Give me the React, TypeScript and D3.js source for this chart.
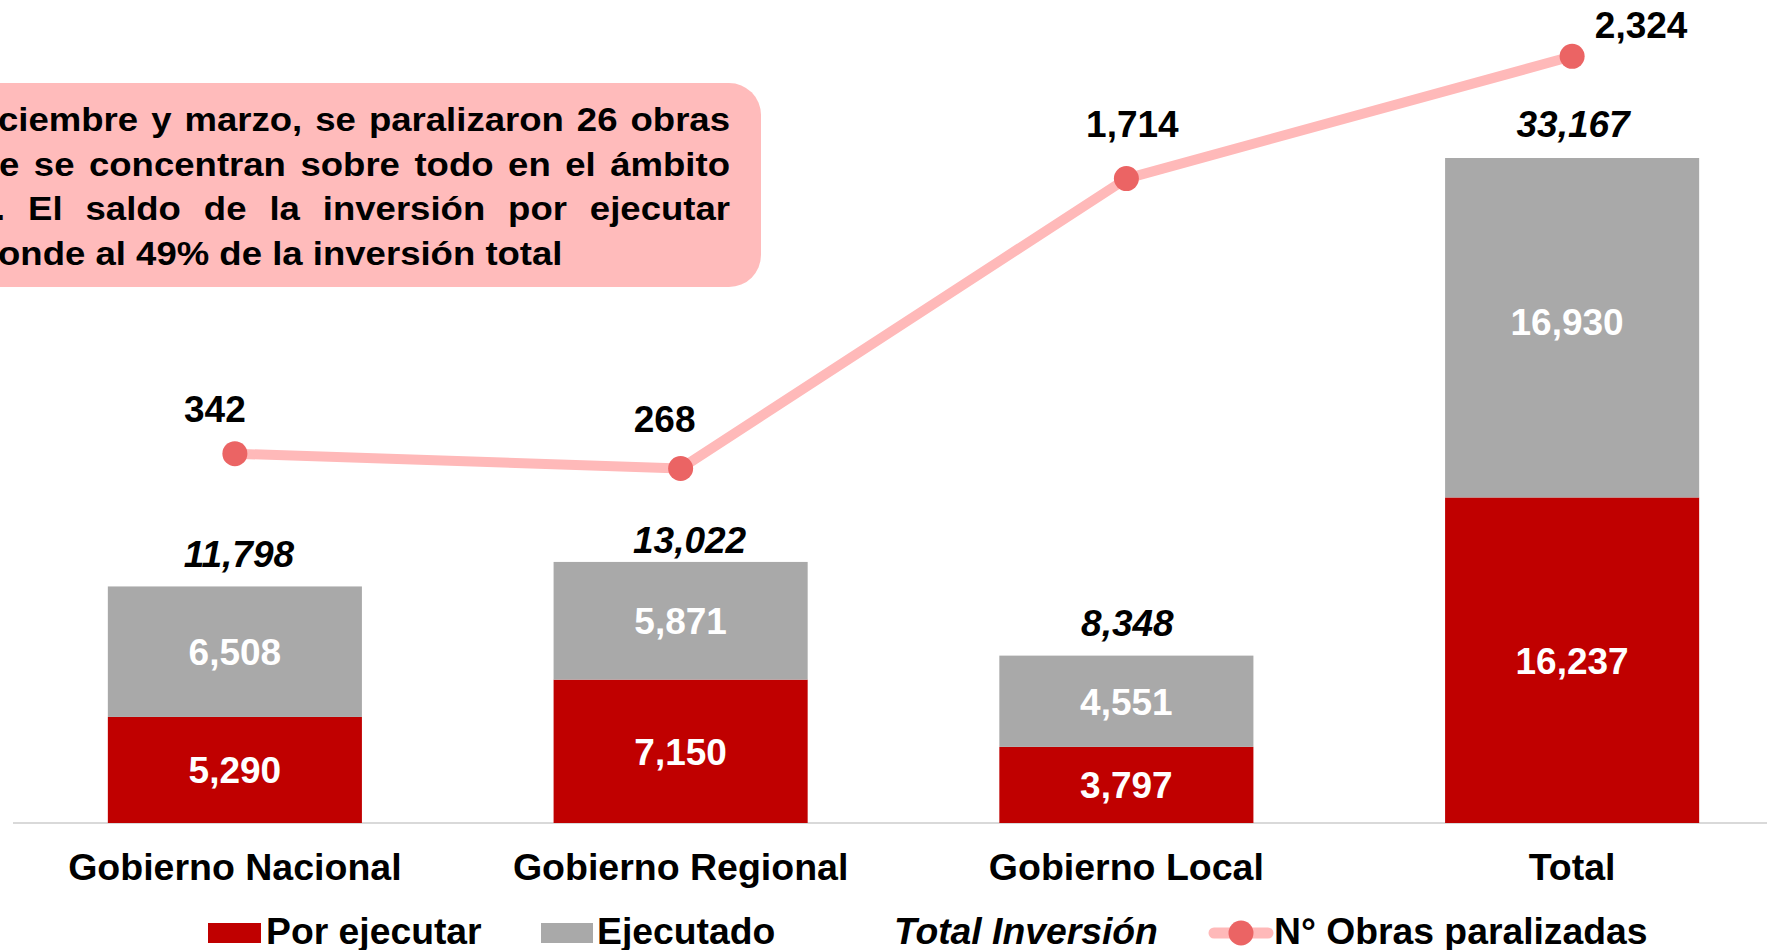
import React, { useEffect, useRef } from "react";
import * as d3 from "d3";

const categories = ["Gobierno Nacional", "Gobierno Regional", "Gobierno Local", "Total"];
const porEjecutar = [5290, 7150, 3797, 16237];
const ejecutado = [6508, 5871, 4551, 16930];
const totalInversion = [11798, 13022, 8348, 33167];
const obrasParalizadas = [342, 268, 1714, 2324];

// the note box is cut on the left in the original, so only the visible part is kept
const calloutLines = [
  "ciembre y marzo, se paralizaron 26 obras",
  "e se concentran sobre todo en el ámbito",
  ". El saldo de la inversión por ejecutar",
  "onde al 49% de la inversión total",
];

// hand placed label offsets (px)
const totalNudge = [[4, -19], [9, -9], [1, -20], [1, -21]];
const obrasNudge = [[-20, -32], [-16, -37], [6, -42], [69, -18]];
const ejecutadoNudge = [[0, 0], [0, 0], [0, 0], [-5, -6]];
const calloutStart = [-2, -1, -5, -2];

const W = 1767;
const H = 950;
const FONT = "'Liberation Sans', Arial, Helvetica, sans-serif";
const RED = "#c00000";
const GRAY = "#a9a9a9";
const PINK = "#ffb9b9";
const DOT = "#eb6464";
const BOX = "#ffbbbb";

export default function App() {
  const ref = useRef<SVGSVGElement>(null);

  useEffect(() => {
    const svg = d3.select(ref.current);
    svg.selectAll("*").remove();
    svg.attr("font-family", FONT);

    const top = 21;
    const base = 823;

    const x = d3
      .scaleBand()
      .domain(categories)
      .range([12, 1795])
      .paddingInner(0.43)
      .paddingOuter(0.215);
    const y = d3.scaleLinear().domain([0, 40000]).range([base, top]);
    const y2 = d3.scaleLinear().domain([-1500, 2500]).range([base, top]);
    const fmt = d3.format(",");
    const cx = (i: number) => (x(categories[i]) as number) + x.bandwidth() / 2;

    // note box
    svg
      .append("rect")
      .attr("x", -40)
      .attr("y", 83)
      .attr("width", 801)
      .attr("height", 204)
      .attr("rx", 32)
      .attr("fill", BOX);

    // text in the box is a bit wide for its height, hence the x stretch
    const noteSize = 34;
    const sx = 1.075;
    const noteRight = 730 / sx;
    calloutLines.forEach((line, li) => {
      const words = line.split(" ");
      const baseline = 131.5 + li * 44.5;
      const g = svg.append("g").attr("transform", `scale(${sx}, 1)`);
      const nodes = words.map((w) =>
        g
          .append("text")
          .text(w)
          .attr("y", baseline)
          .attr("font-size", noteSize)
          .attr("font-weight", "bold")
          .attr("fill", "#000")
      );
      const widths = nodes.map((n) => (n.node() as SVGTextElement).getComputedTextLength());
      const justify = li < calloutLines.length - 1;
      const start = calloutStart[li] / sx;
      const gap = justify
        ? (noteRight - start - d3.sum(widths)) / (words.length - 1)
        : noteSize * 0.278;
      let pos = start;
      nodes.forEach((n, i) => {
        n.attr("x", pos);
        pos += widths[i] + gap;
      });
    });

    // base line and category labels
    svg
      .append("line")
      .attr("x1", 13)
      .attr("x2", W)
      .attr("y1", base)
      .attr("y2", base)
      .attr("stroke", "#d9d9d9")
      .attr("stroke-width", 2);

    const axis = svg
      .append("g")
      .attr("transform", `translate(0, ${base})`)
      .call(d3.axisBottom(x).tickSize(0).tickPadding(30));
    axis.select(".domain").remove();
    axis
      .attr("font-family", FONT)
      .selectAll("text")
      .attr("font-size", 37.5)
      .attr("font-weight", "bold")
      .attr("fill", "#000");

    // stacked bars
    const rows = categories.map((c, i) => ({
      cat: c,
      porEjecutar: porEjecutar[i],
      ejecutado: ejecutado[i],
    }));
    const series = d3.stack<any>().keys(["porEjecutar", "ejecutado"])(rows);
    const colors = [RED, GRAY];
    const nudges = [categories.map(() => [0, 0]), ejecutadoNudge];

    series.forEach((s, si) => {
      const g = svg.append("g");
      g.selectAll("rect")
        .data(s)
        .enter()
        .append("rect")
        .attr("x", (d: any) => x(d.data.cat) as number)
        .attr("width", x.bandwidth())
        .attr("y", (d: any) => y(d[1]))
        .attr("height", (d: any) => y(d[0]) - y(d[1]))
        .attr("fill", colors[si]);
      g.selectAll("text")
        .data(s)
        .enter()
        .append("text")
        .attr("x", (d: any, i: number) => cx(i) + nudges[si][i][0])
        .attr("y", (d: any, i: number) => (y(d[0]) + y(d[1])) / 2 + nudges[si][i][1])
        .attr("dy", "0.36em")
        .attr("text-anchor", "middle")
        .attr("font-size", 37)
        .attr("font-weight", "bold")
        .attr("fill", "#fff")
        .text((d: any) => fmt(d[1] - d[0]));
    });

    // total labels
    svg
      .append("g")
      .selectAll("text")
      .data(totalInversion)
      .enter()
      .append("text")
      .attr("x", (d, i) => cx(i) + totalNudge[i][0])
      .attr("y", (d, i) => y(d) + totalNudge[i][1])
      .attr("text-anchor", "middle")
      .attr("font-size", 37)
      .attr("font-weight", "bold")
      .attr("font-style", "italic")
      .attr("fill", "#000")
      .text((d) => fmt(d));

    // obras line
    const line = d3
      .line<number>()
      .x((d, i) => cx(i))
      .y((d) => y2(d));

    svg
      .append("path")
      .datum(obrasParalizadas)
      .attr("fill", "none")
      .attr("stroke", PINK)
      .attr("stroke-width", 10)
      .attr("stroke-linejoin", "round")
      .attr("d", line);

    svg
      .append("g")
      .selectAll("circle")
      .data(obrasParalizadas)
      .enter()
      .append("circle")
      .attr("cx", (d, i) => cx(i))
      .attr("cy", (d) => y2(d))
      .attr("r", 12.5)
      .attr("fill", DOT);

    svg
      .append("g")
      .selectAll("text")
      .data(obrasParalizadas)
      .enter()
      .append("text")
      .attr("x", (d, i) => cx(i) + obrasNudge[i][0])
      .attr("y", (d, i) => y2(d) + obrasNudge[i][1])
      .attr("text-anchor", "middle")
      .attr("font-size", 37)
      .attr("font-weight", "bold")
      .attr("fill", "#000")
      .text((d) => fmt(d));

    // legend
    const lg = svg.append("g").attr("font-size", 37.3).attr("font-weight", "bold").attr("fill", "#000");
    const ly = 944;
    lg.append("rect").attr("x", 208).attr("y", 923).attr("width", 53).attr("height", 20).attr("fill", RED);
    lg.append("text").attr("x", 266).attr("y", ly).text("Por ejecutar");
    lg.append("rect").attr("x", 541).attr("y", 923).attr("width", 52).attr("height", 20).attr("fill", GRAY);
    lg.append("text").attr("x", 597).attr("y", ly).text("Ejecutado");
    lg.append("text").attr("x", 894).attr("y", ly).attr("font-style", "italic").text("Total Inversión");
    lg.append("line")
      .attr("x1", 1214)
      .attr("x2", 1268)
      .attr("y1", 933)
      .attr("y2", 933)
      .attr("stroke", PINK)
      .attr("stroke-width", 11)
      .attr("stroke-linecap", "round");
    lg.append("circle").attr("cx", 1241).attr("cy", 933).attr("r", 12.5).attr("fill", DOT);
    lg.append("text").attr("x", 1274).attr("y", ly).text("N° Obras paralizadas");
  }, []);

  return (
    <div style={{ position: "absolute", left: 0, top: 0 }}>
      <svg ref={ref} width={W} height={H} style={{ display: "block", background: "#fff" }} />
    </div>
  );
}
